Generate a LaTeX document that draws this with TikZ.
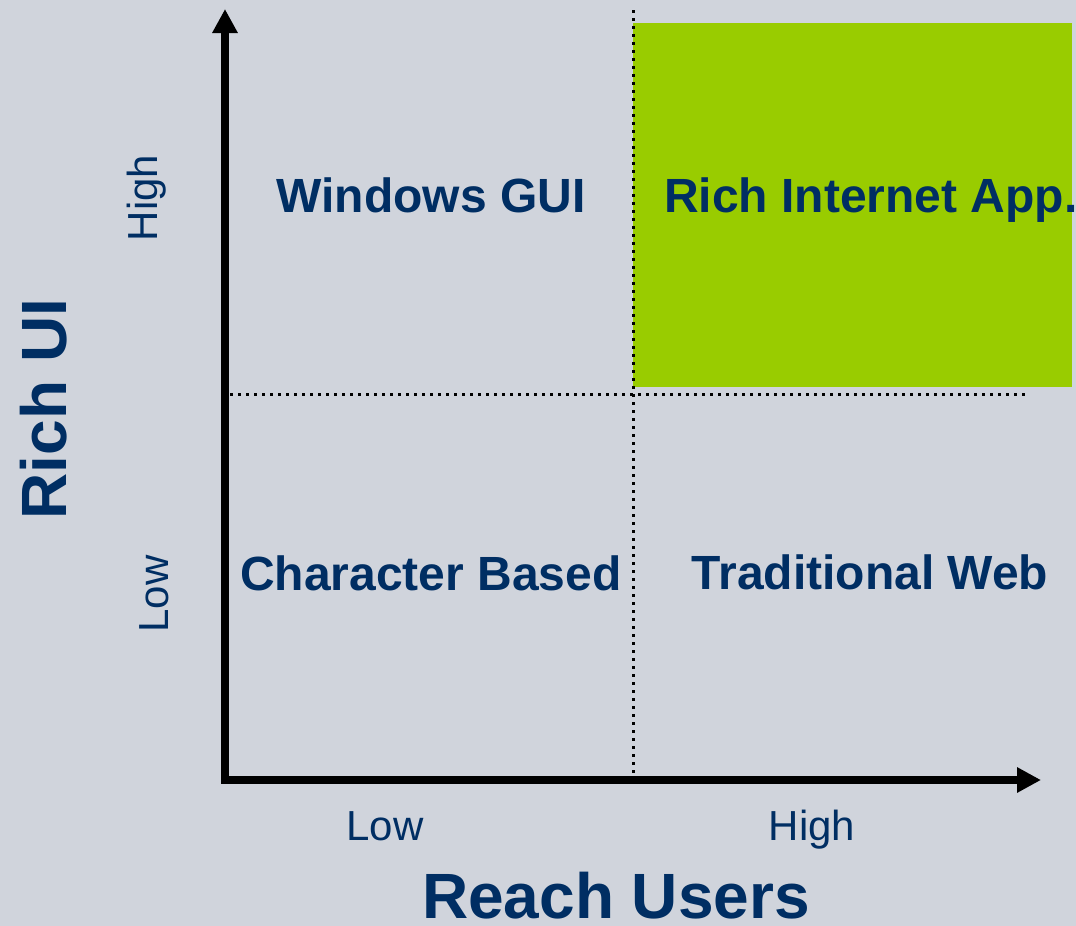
\documentclass[tikz,border=0pt]{standalone}
\usepackage{fontspec}
\setmainfont{Liberation Sans}
\usetikzlibrary{arrows.meta}
\definecolor{bg}{RGB}{208,212,220}
\definecolor{navy}{RGB}{0,46,99}
\definecolor{ria}{RGB}{153,204,0}
\tikzset{
  axis/.style={line width=8pt,-{Triangle[width=24pt,length=24pt]}},
  divider/.style={line width=3pt,dash pattern=on 3pt off 5pt},
  quad/.style={inner sep=0pt,anchor=base,text=navy,font=\fontsize{48}{58}\selectfont\bfseries},
  tick/.style={inner sep=0pt,anchor=base,text=navy,font=\fontsize{42}{50}\selectfont},
  axtitle/.style={inner sep=0pt,anchor=base,text=navy,font=\fontsize{64}{76}\selectfont\bfseries}
}
\begin{document}
\begin{tikzpicture}[x=1pt,y=-1pt]
\fill[bg] (0,0) rectangle (1076,926);
\useasboundingbox (0,0) rectangle (1076,926);
% highlighted quadrant
\fill[ria] (633,23) rectangle (1072,387);
% dividers
\coordinate (vtop) at (633,10);
\coordinate (vbot) at (633,774);
\coordinate (hleft) at (230,394);
\coordinate (hright) at (1026,394);
\draw[divider] (vtop) -- (vbot);
\draw[divider] (hleft) -- (hright);
% axes
\coordinate (O) at (225,780);
\coordinate (ytop) at (225,9);
\coordinate (Ox) at (221,780);
\coordinate (xend) at (1041,780);
\draw[axis] (O) -- (ytop);
\draw[axis] (Ox) -- (xend);
% quadrant labels
\node[quad] (win) at (431,212) {Windows GUI};
\node[quad,anchor=base west] (rich) at (664,212) {Rich Internet App.};
\node[quad] (char) at (431,590) {Character Based};
\node[quad] (web) at (870,589) {Traditional Web};
% tick labels
\node[tick] (xlow) at (385,840) {Low};
\node[tick] (xhigh) at (812,840) {High};
\node[tick,rotate=90] (yhigh) at (157,198) {High};
\node[tick,rotate=90] (ylow) at (168,594) {Low};
% axis titles
\node[axtitle] (xtitle) at (616,918) {Reach Users};
\node[axtitle,rotate=90] (ytitle) at (66,409) {Rich UI};
\end{tikzpicture}
\end{document}
